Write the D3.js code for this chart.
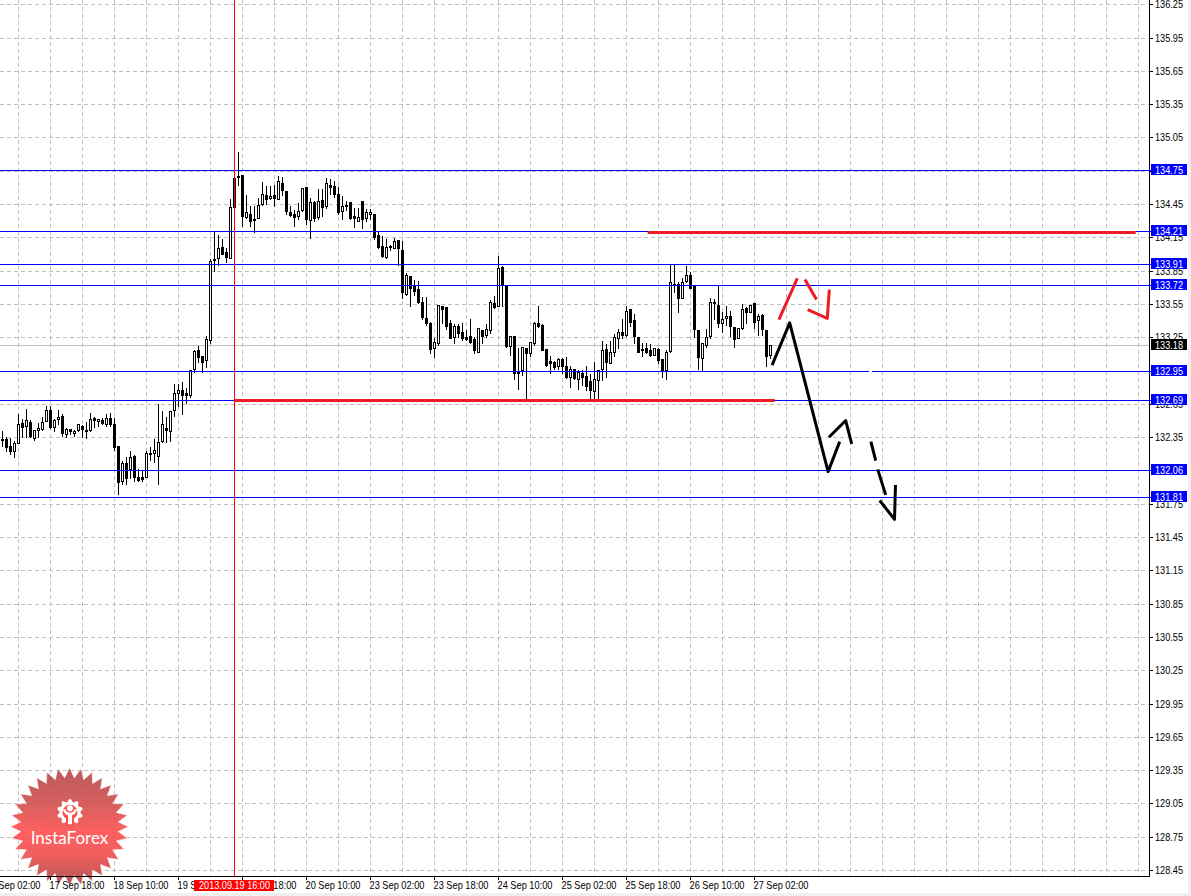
<!DOCTYPE html>
<html>
<head>
<meta charset="utf-8">
<script src="https://cdn.jsdelivr.net/npm/d3@7"></script>
<style>
html, body { margin: 0; padding: 0; background: #f0f0f0; overflow: hidden; }
svg { display: block; }
text { font-family: "Liberation Sans", sans-serif; font-size: 11px; }
</style>
</head>
<body>
<svg id="chart"></svg>
<script>
const width = 1191;
const height = 896;

// hourly candles, USD/JPY, 17 Sep 06:00 onwards
const opens = [
  132.33,132.33,132.27,132.22,132.29,132.47,132.45,132.48,132.34,132.41,
  132.42,132.49,132.59,132.44,132.51,132.54,132.37,132.42,132.38,132.41,
  132.45,132.41,132.41,132.52,132.49,132.50,132.46,132.52,132.46,132.27,
  131.95,132.11,132.06,132.18,131.99,131.99,131.99,132.19,132.20,132.18,
  132.31,132.43,132.40,132.59,132.74,132.77,132.74,132.73,132.96,133.13,
  133.08,133.04,133.22,133.94,133.96,134.06,134.01,133.96,134.68,134.69,
  134.71,134.33,134.36,134.30,134.32,134.45,134.53,134.50,134.53,134.49,
  134.64,134.56,134.37,134.36,134.34,134.39,134.60,134.30,134.46,134.33,
  134.48,134.43,134.62,134.61,134.54,134.38,134.44,134.46,134.34,134.29,
  134.47,134.32,134.36,134.36,134.17,134.07,133.97,134.06,134.05,134.12,
  134.03,133.64,133.80,133.72,133.68,133.56,133.42,133.37,133.15,133.19,
  133.53,133.52,133.37,133.25,133.35,133.29,133.25,133.26,133.23,133.11,
  133.31,133.27,133.31,133.55,133.53,133.88,133.72,133.17,133.26,132.93,
  132.95,133.15,133.10,133.19,133.37,133.36,133.14,133.03,133.02,132.99,
  133.05,132.99,132.89,132.96,132.87,132.92,132.90,132.85,132.76,132.86,
  132.96,133.14,133.01,133.11,133.24,133.29,133.27,133.50,133.40,133.25,
  133.14,133.15,133.13,133.09,133.14,133.05,132.95,133.12,133.73,133.73,
  133.60,133.75,133.81,133.71,133.31,133.06,133.18,133.26,133.56,133.54,
  133.37,133.42,133.44,133.34,133.24,133.33,133.51,133.47,133.55,133.40,
  133.45,133.31,133.09
];
const highs = [
  132.41,132.36,132.35,132.32,132.56,132.52,132.61,132.51,132.41,132.48,
  132.54,132.64,132.64,132.52,132.60,132.56,132.44,132.43,132.42,132.47,
  132.46,132.49,132.57,132.54,132.52,132.53,132.56,132.57,132.53,132.27,
  132.14,132.18,132.23,132.19,132.07,132.05,132.23,132.27,132.34,132.65,
  132.59,132.54,132.59,132.83,132.83,132.85,132.80,132.95,133.14,133.18,
  133.08,133.27,133.96,134.21,134.18,134.14,134.06,134.50,134.69,134.92,
  134.71,134.54,134.44,134.44,134.51,134.65,134.62,134.62,134.63,134.71,
  134.70,134.57,134.44,134.40,134.46,134.60,134.61,134.51,134.48,134.59,
  134.59,134.69,134.68,134.66,134.61,134.53,134.48,134.46,134.42,134.42,
  134.47,134.41,134.41,134.36,134.21,134.17,134.14,134.09,134.15,134.12,
  134.12,133.83,133.80,133.77,133.76,133.62,133.62,133.39,133.25,133.54,
  133.54,133.53,133.41,133.37,133.37,133.38,133.32,133.42,133.26,133.34,
  133.32,133.37,133.59,133.63,133.99,133.90,133.73,133.27,133.27,133.16,
  133.16,133.16,133.20,133.39,133.54,133.37,133.14,133.09,133.04,133.07,
  133.07,133.08,133.00,132.97,132.96,132.96,133.00,132.92,133.03,132.96,
  133.22,133.19,133.22,133.28,133.33,133.42,133.54,133.50,133.46,133.26,
  133.20,133.20,133.19,133.16,133.16,133.06,133.14,133.91,133.91,133.75,
  133.79,133.90,133.84,133.72,133.31,133.20,133.33,133.61,133.60,133.73,
  133.48,133.54,133.49,133.35,133.33,133.55,133.53,133.54,133.56,133.46,
  133.46,133.31,133.18
];
const lows = [
  132.27,132.22,132.19,132.17,132.29,132.35,132.35,132.35,132.32,132.35,
  132.41,132.49,132.43,132.40,132.46,132.36,132.35,132.37,132.36,132.40,
  132.35,132.34,132.40,132.44,132.45,132.46,132.45,132.45,132.23,131.83,
  131.92,131.92,131.98,131.95,131.95,131.95,131.99,132.14,132.12,131.92,
  132.30,132.30,132.31,132.54,132.63,132.55,132.65,132.71,132.93,133.02,
  132.93,132.98,133.19,133.84,133.90,134.00,133.92,133.96,134.42,134.62,
  134.25,134.32,134.25,134.19,134.32,134.44,134.45,134.49,134.43,134.49,
  134.53,134.36,134.34,134.25,134.31,134.38,134.27,134.14,134.29,134.31,
  134.34,134.41,134.54,134.51,134.36,134.31,134.39,134.31,134.24,134.29,
  134.23,134.29,134.31,134.13,134.05,133.97,133.96,134.03,134.05,133.90,
  133.60,133.63,133.53,133.63,133.55,133.41,133.36,133.10,133.07,133.18,
  133.37,133.32,133.24,133.19,133.25,133.22,133.22,133.19,133.10,133.11,
  133.19,133.25,133.28,133.51,133.53,133.53,133.16,133.09,132.87,132.78,
  132.91,132.68,133.08,133.18,133.34,133.13,132.99,132.92,132.96,132.96,
  132.92,132.88,132.80,132.87,132.78,132.82,132.77,132.68,132.68,132.69,
  132.86,132.89,133.01,133.08,133.15,133.24,133.26,133.35,133.19,133.11,
  133.08,133.10,133.08,133.09,133.01,132.89,132.87,133.11,133.65,133.47,
  133.60,133.74,133.69,133.25,132.96,132.94,133.16,133.24,133.41,133.34,
  133.29,133.36,133.26,133.16,133.24,133.32,133.37,133.47,133.33,133.27,
  133.27,132.99,133.06
];
const closes = [
  132.32,132.26,132.22,132.29,132.46,132.44,132.50,132.36,132.41,132.43,
  132.48,132.59,132.44,132.50,132.53,132.38,132.42,132.40,132.40,132.46,
  132.42,132.40,132.51,132.50,132.51,132.47,132.52,132.46,132.26,131.94,
  132.11,131.98,132.17,131.99,131.96,131.97,132.20,132.20,132.23,132.30,
  132.46,132.41,132.58,132.74,132.77,132.73,132.73,132.95,133.12,133.07,
  133.02,133.23,133.93,133.95,134.05,134.00,133.97,134.42,134.42,134.70,
  134.34,134.37,134.29,134.31,134.44,134.54,134.49,134.52,134.50,134.65,
  134.57,134.38,134.35,134.33,134.38,134.59,134.31,134.46,134.32,134.47,
  134.42,134.64,134.60,134.54,134.37,134.43,134.43,134.32,134.32,134.33,
  134.31,134.37,134.37,134.15,134.06,133.98,134.06,134.07,134.11,134.05,
  133.65,133.81,133.69,133.66,133.56,133.43,133.37,133.14,133.20,133.54,
  133.50,133.35,133.24,133.35,133.28,133.24,133.23,133.20,133.13,133.33,
  133.26,133.32,133.56,133.52,133.87,133.72,133.17,133.26,132.92,132.92,
  133.16,133.10,133.20,133.37,133.35,133.13,133.00,133.01,132.98,133.05,
  132.99,132.89,132.96,132.88,132.93,132.89,132.81,132.77,132.87,132.95,
  133.13,133.02,133.11,133.25,133.29,133.27,133.48,133.38,133.26,133.11,
  133.13,133.11,133.09,133.15,133.04,132.94,133.11,133.74,133.72,133.60,
  133.74,133.81,133.69,133.32,133.07,133.19,133.25,133.56,133.55,133.37,
  133.41,133.44,133.35,133.23,133.33,133.50,133.47,133.54,133.38,133.44,
  133.32,133.08,133.18
];

const priceTicks = d3.range(0, 27).map(i => +(136.25 - i * 0.3).toFixed(2));
const levels = [134.754, 134.21, 133.91, 133.72, 132.95, 132.686, 132.056, 131.81];
const lastPrice = 133.18;

const timeLabels = ["17 Sep 02:00", "17 Sep 18:00", "18 Sep 10:00", "19 Sep 02:00", "19 Sep 18:00",
  "20 Sep 10:00", "23 Sep 02:00", "23 Sep 18:00", "24 Sep 10:00", "25 Sep 02:00", "25 Sep 18:00",
  "26 Sep 10:00", "27 Sep 02:00"];
const firstLabelBar = -4;
const labelStep = 16;
const cursorBar = 58;
const cursorLabel = "2013.09.19 16:00";

// hand drawn forecast, [bar, price]
const blackStrokes = [
  [[192.4, 133.00], [196.8, 133.38], [206.4, 132.04], [209.3, 132.31]],
  [[206.6, 132.35], [210.8, 132.50], [212.3, 132.29]],
  [[217.1, 132.31], [218.3, 132.14]],
  [[218.8, 132.06], [220.8, 131.83]],
  [[219.3, 131.78], [223.0, 131.61], [223.25, 131.92]]
];
const redStrokes = [
  [[194.1, 133.41], [198.7, 133.78]],
  [[200.6, 133.77], [203.5, 133.59]],
  [[201.3, 133.50], [206.2, 133.42], [206.7, 133.68]]
];
const redLevels = [
  [[161.3, 134.195], [283.3, 134.195]],
  [[57.8, 132.68], [193.1, 132.68]]
];

const plotRight = 1149;
const plotBottom = 876;

const x = d3.scaleLinear().domain([0, 192]).range([2.5, 770.5]);
const y = d3.scaleLinear().domain([136.25, 128.45]).range([4.3, 870.1]);
const sy = p => Math.floor(y(p)) + 0.5;   // candles
const ry = p => Math.round(y(p)) + 0.5;   // grid and level lines

// the chart's label font is narrower than anything installed, so squeeze to the measured width
const squeeze = (sel, w) => sel.attr("textLength", w).attr("lengthAdjust", "spacingAndGlyphs");

const svg = d3.select("#chart").attr("width", width).attr("height", height)
  .attr("viewBox", `0 0 ${width} ${height}`);

svg.append("rect").attr("width", 1188).attr("height", 893).attr("fill", "#fff");

const defs = svg.append("defs");
defs.append("clipPath").attr("id", "plot").append("rect")
  .attr("width", plotRight).attr("height", plotBottom);
const grad = defs.append("linearGradient").attr("id", "starFill")
  .attr("x1", 0).attr("y1", 0).attr("x2", 0).attr("y2", 1);
[[0, "#b24848"], [0.3, "#d24e4e"], [0.55, "#ff4f4f"], [0.75, "#ee4c4c"], [1, "#a84444"]].forEach(s => {
  grad.append("stop").attr("offset", s[0]).attr("stop-color", s[1]);
});

const plot = svg.append("g").attr("clip-path", "url(#plot)");

// grid
const gridBars = d3.range(4, 288, 8).filter(b => x(b) < plotRight - 5);
const grid = plot.append("g").attr("stroke", "#c0c0c0").attr("stroke-dasharray", "4,3")
  .attr("shape-rendering", "crispEdges");
grid.selectAll(".v").data(gridBars).enter().append("line")
  .attr("x1", d => x(d)).attr("x2", d => x(d)).attr("y1", 0).attr("y2", plotBottom);
grid.selectAll(".h").data(priceTicks).enter().append("line")
  .attr("x1", 0).attr("x2", plotRight).attr("y1", d => ry(d)).attr("y2", d => ry(d));

plot.append("line").attr("x1", 0).attr("x2", plotRight)
  .attr("y1", ry(lastPrice)).attr("y2", ry(lastPrice))
  .attr("stroke", "#c0c0c0").attr("shape-rendering", "crispEdges");

// candles
const candles = plot.append("g").attr("shape-rendering", "crispEdges");
const bars = d3.range(opens.length);
candles.selectAll(".wick").data(bars).enter().append("line")
  .attr("x1", i => x(i)).attr("x2", i => x(i))
  .attr("y1", i => sy(highs[i])).attr("y2", i => sy(lows[i]) + 0.5)
  .attr("stroke", "#000");
candles.selectAll(".body").data(bars).enter().append("rect")
  .attr("x", i => x(i) - 1).attr("width", 2)
  .attr("y", i => sy(Math.max(opens[i], closes[i])))
  .attr("height", i => sy(Math.min(opens[i], closes[i])) - sy(Math.max(opens[i], closes[i])))
  .attr("fill", i => closes[i] >= opens[i] ? "#fff" : "#000")
  .attr("stroke", "#000");

// blue levels
plot.selectAll(".level").data(levels).enter().append("line")
  .attr("x1", 0).attr("x2", plotRight).attr("y1", d => ry(d)).attr("y2", d => ry(d))
  .attr("stroke", "#0000ff").attr("shape-rendering", "crispEdges");

// small break in the 132.95 line
plot.append("line").attr("x1", x(216.6)).attr("x2", x(217.4))
  .attr("y1", ry(132.95)).attr("y2", ry(132.95))
  .attr("stroke", "#fff").attr("shape-rendering", "crispEdges");

// cursor line
plot.append("line").attr("x1", x(cursorBar)).attr("x2", x(cursorBar))
  .attr("y1", 0).attr("y2", plotBottom)
  .attr("stroke", "#ff0000").attr("shape-rendering", "crispEdges");

// drawn lines
const line = d3.line().x(d => x(d[0])).y(d => y(d[1]));
plot.selectAll(".red-level").data(redLevels).enter().append("path")
  .attr("d", line).attr("fill", "none").attr("stroke", "#ed1c24").attr("stroke-width", 3);
plot.selectAll(".black-stroke").data(blackStrokes).enter().append("path")
  .attr("d", line).attr("fill", "none").attr("stroke", "#000").attr("stroke-width", 3)
  .attr("stroke-linejoin", "round");
plot.selectAll(".red-stroke").data(redStrokes).enter().append("path")
  .attr("d", line).attr("fill", "none").attr("stroke", "#ed1c24").attr("stroke-width", 3)
  .attr("stroke-linejoin", "round");

// logo
const logo = svg.append("g").attr("transform", "translate(69.5,826.7)");
const teeth = 32;
const starPts = d3.range(teeth * 2).map(k => {
  const r = k % 2 ? 49 : 59;
  const a = (k / (teeth * 2)) * 2 * Math.PI;
  return [r * Math.sin(a), -r * Math.cos(a)];
});
logo.append("path").attr("d", d3.line()(starPts) + "Z")
  .attr("fill", "url(#starFill)").attr("fill-opacity", 0.9)
  .attr("stroke", "#fff").attr("stroke-opacity", 0.5);
const gear = logo.append("g").attr("transform", "translate(0.5,-14.5)");
const gearPts = d3.range(40).map(k => {
  const r = (k % 4 < 2) ? 13 : 10.5;
  const a = ((k - 0.5) / 40) * 2 * Math.PI;
  return [r * Math.sin(a), -r * Math.cos(a)];
});
gear.append("path").attr("d", d3.line()(gearPts) + "Z").attr("fill", "#fff");
gear.append("circle").attr("r", 7.5).attr("fill", "#f65050");
gear.append("rect").attr("x", -4).attr("y", 6).attr("width", 8).attr("height", 8).attr("fill", "#f65050");
gear.append("circle").attr("cy", -4).attr("r", 3).attr("fill", "#fff");
gear.append("path").attr("d", "M-7,-3 Q-6,2 -2,3 L-2,12 L2,12 L2,3 Q6,2 7,-3 L4.5,-3 Q4,0 0,0.5 Q-4,0 -4.5,-3 Z").attr("fill", "#fff");
logo.append("text").attr("x", 0).attr("y", 17).attr("text-anchor", "middle")
  .style("font-family", "Lato").style("font-size", "17px")
  .attr("fill", "#fff").text("InstaForex");

// axes
svg.append("line").attr("x1", plotRight + 0.5).attr("x2", plotRight + 0.5).attr("y1", 0).attr("y2", plotBottom + 1)
  .attr("stroke", "#000").attr("shape-rendering", "crispEdges");
svg.append("line").attr("x1", 0).attr("x2", plotRight + 1).attr("y1", plotBottom + 0.5).attr("y2", plotBottom + 0.5)
  .attr("stroke", "#000").attr("shape-rendering", "crispEdges");

const yAxis = svg.append("g");
yAxis.selectAll("line").data(priceTicks).enter().append("line")
  .attr("x1", plotRight).attr("x2", plotRight + 4).attr("y1", d => ry(d)).attr("y2", d => ry(d))
  .attr("stroke", "#000").attr("shape-rendering", "crispEdges");
yAxis.selectAll("text").data(priceTicks).enter().append("text")
  .attr("x", 1155).attr("y", d => ry(d) + 3).attr("fill", "#000").text(d => d.toFixed(2))
  .call(squeeze, 28);

const xAxis = svg.append("g");
xAxis.selectAll("line").data(timeLabels).enter().append("line")
  .attr("x1", (d, i) => x(firstLabelBar + i * labelStep)).attr("x2", (d, i) => x(firstLabelBar + i * labelStep))
  .attr("y1", plotBottom).attr("y2", plotBottom + 4)
  .attr("stroke", "#000").attr("shape-rendering", "crispEdges");
xAxis.selectAll("text").data(timeLabels).enter().append("text")
  .attr("x", (d, i) => x(firstLabelBar + i * labelStep) - 1).attr("y", 889).attr("fill", "#000").text(d => d)
  .call(squeeze, 55);

// level tags
const tag = (g, price, bg) => {
  g.append("rect").attr("x", 1151).attr("y", Math.floor(ry(price)) - 6).attr("width", 36).attr("height", 11).attr("fill", bg);
  g.append("text").attr("x", 1155).attr("y", ry(price) + 3).attr("fill", "#fff").text(price.toFixed(2))
    .call(squeeze, 28);
};
const tags = svg.append("g");
levels.forEach(p => {
  tags.append("line").attr("x1", plotRight).attr("x2", 1151).attr("y1", ry(p)).attr("y2", ry(p))
    .attr("stroke", "#0000ff").attr("shape-rendering", "crispEdges");
  tag(tags, p, "#0000ff");
});
tag(tags, lastPrice, "#000");

// cursor time tag
svg.append("rect").attr("x", 194).attr("y", 880).attr("width", 80).attr("height", 11).attr("fill", "#ff0000");
svg.append("text").attr("x", 199).attr("y", 889).attr("fill", "#fff").text(cursorLabel)
  .call(squeeze, 71);
</script>
</body>
</html>
